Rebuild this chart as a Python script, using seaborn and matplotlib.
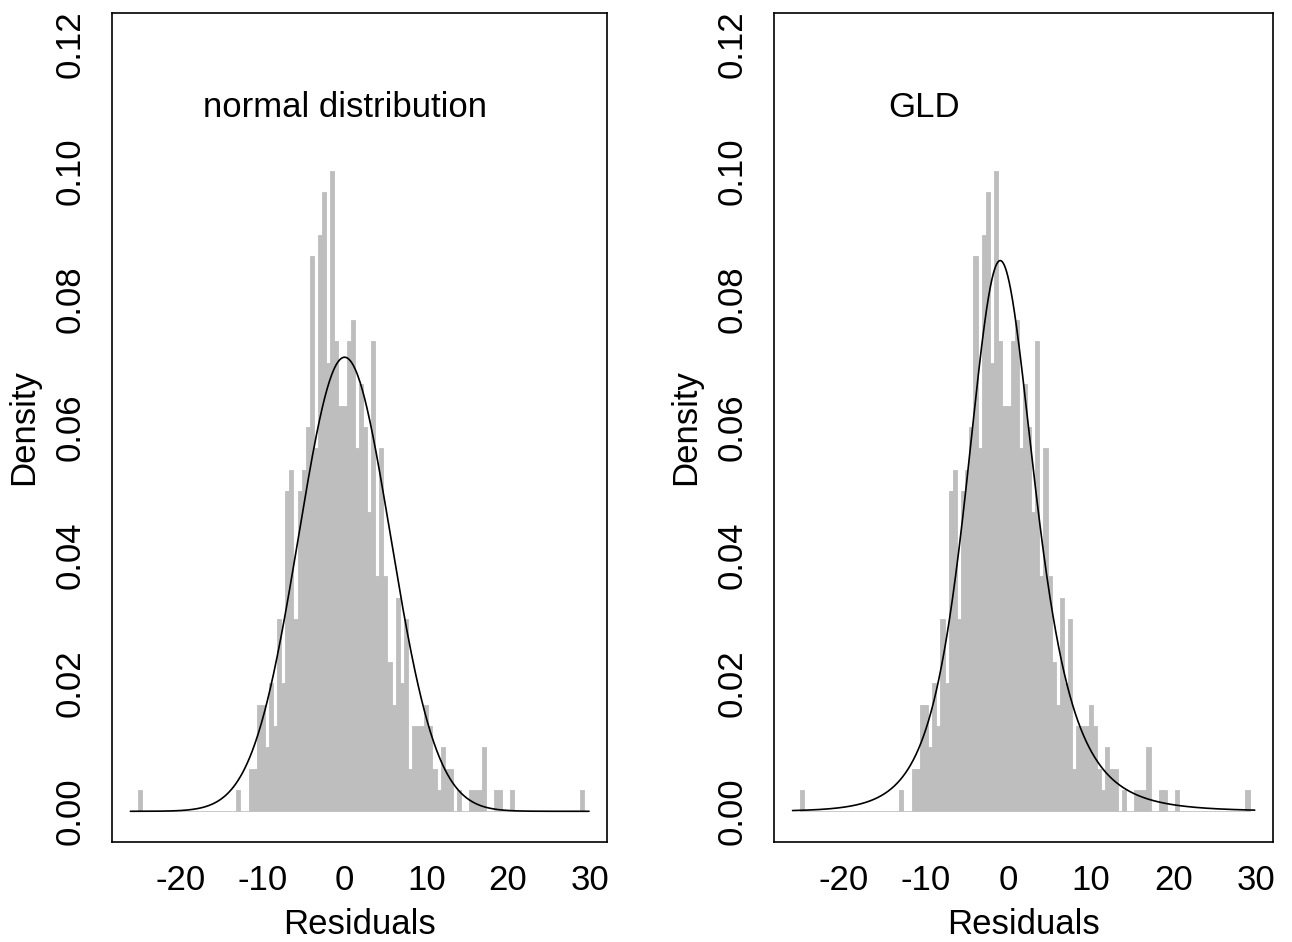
import numpy as np
import pandas as pd
import matplotlib
matplotlib.use("Agg")
import matplotlib.pyplot as plt
import seaborn as sns

# ---- data -------------------------------------------------------------
# histogram of residuals: bin centres (width 0.5) and observation counts
bin_width = 0.5
bin_centers = [-25.0, -13.0, -11.5, -11.0, -10.5, -10.0, -9.5, -9.0, -8.5, -8.0,
               -7.5, -7.0, -6.5, -6.0, -5.5, -5.0, -4.5, -4.0, -3.5, -3.0,
               -2.5, -2.0, -1.5, -1.0, -0.5, 0.0, 0.5, 1.0, 1.5, 2.0,
               2.5, 3.0, 3.5, 4.0, 4.5, 5.0, 5.5, 6.0, 6.5, 7.0,
               7.5, 8.0, 8.5, 9.0, 9.5, 10.0, 10.5, 11.0, 11.5, 12.0,
               12.5, 13.0, 14.0, 15.5, 16.0, 16.5, 17.0, 18.5, 19.0, 20.5,
               29.0]
bin_counts = [1, 1, 2, 2, 5, 5, 3, 6, 4, 9,
              6, 15, 16, 9, 15, 16, 18, 26, 17, 27,
              29, 21, 30, 22, 19, 19, 22, 23, 17, 20,
              18, 14, 22, 11, 17, 11, 7, 5, 10, 6,
              9, 2, 4, 4, 4, 5, 4, 2, 1, 3,
              2, 2, 1, 1, 1, 1, 3, 1, 1, 1,
              1]
hist_range = (-25.25, 29.25)

# fitted normal distribution
norm_mean = 0.0
norm_sd = 5.62
# fitted generalised lambda distribution (FKML parameterisation)
gld_l1 = -0.8475
gld_l2 = 0.3687
gld_l3 = -0.05
gld_l4 = -0.15
curve_range = (-26.2, 29.9)

panel_titles = ["normal distribution", "GLD"]
title_pos = [(0.0, 0.110), (-10.2, 0.110)]
xticks = [-20, -10, 0, 10, 20, 30]
yticks = [0.00, 0.02, 0.04, 0.06, 0.08, 0.10, 0.12]

# ---- derived curves ----------------------------------------------------
xs = np.linspace(curve_range[0], curve_range[1], 600)
norm_pdf = np.exp(-0.5 * ((xs - norm_mean) / norm_sd) ** 2) / (norm_sd * np.sqrt(2 * np.pi))
norm_df = pd.DataFrame({"x": xs, "y": norm_pdf})

u = np.concatenate([np.logspace(-9, -2, 2000),
                    np.linspace(0.01, 0.99, 4000)[1:-1],
                    1 - np.logspace(-2, -9, 2000)])
q = gld_l1 + ((u ** gld_l3 - 1) / gld_l3 - ((1 - u) ** gld_l4 - 1) / gld_l4) / gld_l2
dens = gld_l2 / (u ** (gld_l3 - 1) + (1 - u) ** (gld_l4 - 1))
mask = (q >= curve_range[0]) & (q <= curve_range[1])
gld_df = pd.DataFrame({"x": q[mask], "y": dens[mask]})

edges = np.arange(hist_range[0], hist_range[1] + 1e-9, bin_width).tolist()
hist_df = pd.DataFrame({"res": bin_centers, "n": bin_counts})

# ---- plotting -----------------------------------------------------------
sns.set_style("white")
plt.rcParams["font.family"] = ["Liberation Sans", "DejaVu Sans"]
plt.rcParams["font.size"] = 25
for key in ["text.color", "axes.labelcolor", "xtick.color", "ytick.color", "axes.edgecolor"]:
    plt.rcParams[key] = "black"

fig = plt.figure(figsize=(12.92, 9.42), dpi=100)
W, H = 1292.0, 942.0
boxes = [(112, 13, 607, 842), (774, 13, 1273, 842)]
curves = [norm_df, gld_df]

for (l, t, r, b), curve, title, tpos in zip(boxes, curves, panel_titles, title_pos):
    ax = fig.add_axes([l / W, 1 - b / H, (r - l) / W, (b - t) / H])
    sns.histplot(data=hist_df, x="res", weights="n", bins=edges, stat="density",
                 color="#BEBEBE", edgecolor="#BEBEBE", linewidth=0.6, alpha=1.0, ax=ax)
    sns.lineplot(data=curve, x="x", y="y", color="black", linewidth=1.2, ax=ax,
                 sort=False)
    ax.set_xlim(-28.45, 32.1)
    ax.set_ylim(-0.0048, 0.1248)
    ax.set_xticks(xticks)
    ax.set_xticklabels([str(v) for v in xticks])
    ax.set_yticks(yticks)
    ax.set_yticklabels([f"{v:.2f}" for v in yticks], rotation=90, va="center")
    ax.tick_params(axis="both", direction="out", length=10, width=1.2,
                   labelsize=25, color="black", labelcolor="black", pad=6)
    ax.tick_params(axis="y", pad=8)
    for s in ax.spines.values():
        s.set_visible(True)
        s.set_color("black")
        s.set_linewidth(1.2)
    ax.set_xlabel("Residuals", fontsize=25, labelpad=8, color="black")
    ax.set_ylabel("Density", fontsize=25, labelpad=10, color="black")
    ax.text(tpos[0], tpos[1], title, ha="center", va="center", fontsize=25,
            color="black")

fig.savefig("out.png", dpi=100, facecolor="white")
